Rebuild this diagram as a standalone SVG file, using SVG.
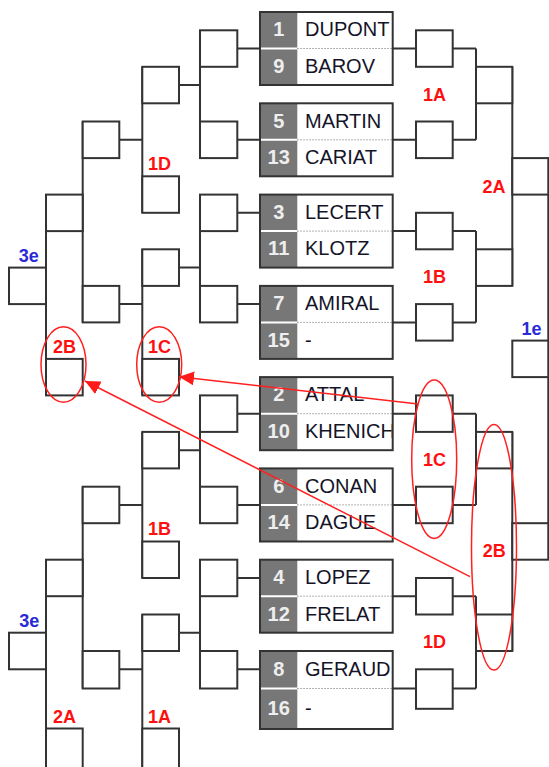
<svg xmlns="http://www.w3.org/2000/svg" width="549" height="767" viewBox="0 0 549 767">
<style>
.bg{fill:#fff}
.gc{fill:#777}
.wl{stroke:#fff;stroke-width:2}
.dot{stroke:#999;stroke-width:1;stroke-dasharray:1.5 1.5}
.bx{fill:none;stroke:#333;stroke-width:2}
.sq{fill:#fff;stroke:#333;stroke-width:2}
.ln{fill:none;stroke:#333;stroke-width:2}
.num{font-family:"Liberation Sans",Arial,sans-serif;font-weight:bold;font-size:20px;fill:#eee;text-anchor:middle}
.nm{font-family:"Liberation Sans",Arial,sans-serif;font-size:20px;fill:#141428}
.lbl{font-family:"Liberation Sans",Arial,sans-serif;font-weight:bold;font-size:18px;fill:#ff1010;text-anchor:middle}
.blu{fill:#2a2ad6}
.rd{fill:none;stroke:#ff2020;stroke-width:1.5}
</style>
<defs>
<marker id="ah" markerUnits="userSpaceOnUse" markerWidth="16" markerHeight="14" refX="15" refY="7" orient="auto">
<path d="M0,0 L15,7 L0,14 z" fill="#ff1a1a"/>
</marker>
<clipPath id="c4"><rect x="297" y="377" width="94.7" height="74"/></clipPath>
</defs>

<g id="connectors">
<path class="ln" d="
M237.3,48.5H260 M237.3,139.8H260 M237.3,212.8H260 M237.3,304.1H260 M237.3,413.7H260 M237.3,504.9H260 M237.3,578H260 M237.3,669.3H260
M200,30.3V158.1 M200,194.6V322.4 M200,395.4V523.2 M200,559.7V688.5
M179,85H200 M179,267.6H200 M179,450.2H200 M179,632.7H200
M142.3,66.8V212.8 M142.3,249.3V395.4 M142.3,431.9V578 M142.3,614.5V767
M119.3,139.8H142.3 M119.3,304.1H142.3 M119.3,504.9H142.3 M119.3,669.3H142.3
M82.7,121.5V322.4 M82.7,486.7V688.5
M46,194.6V395.4 M46,559.7V767
M392.7,48.5H416 M392.7,139.8H416 M392.7,231.1H416 M392.7,322.4H416 M392.7,413.7H416 M392.7,504.9H416 M392.7,596.2H416 M392.7,688.5H416
M452.7,48.5H476 M452.7,139.8H476 M452.7,231.1H476 M452.7,322.4H476 M452.7,413.7H476 M452.7,504.9H476 M452.7,596.2H476 M452.7,688.5H476
M476,48.5V139.8 M476,231.1V322.4 M476,413.7V504.9 M476,596.2V688.5
M512.3,66.8V285.9 M512.3,431.9V651
M548.3,158.1V559.7"/>
</g>

<g id="p1"><rect class="bg" x="260" y="12" width="132.7" height="73"/><rect class="gc" x="260" y="12" width="37.3" height="73"/><line class="wl" x1="260" y1="48.5" x2="297.3" y2="48.5"/><line class="dot" x1="297.3" y1="48.5" x2="392.7" y2="48.5"/><rect class="bx" x="260" y="12" width="132.7" height="73"/>
<text class="num" x="278.7" y="36.3">1</text><text class="num" x="278.7" y="72.8">9</text><text class="nm" x="305" y="36.3">DUPONT</text><text class="nm" x="305" y="72.8">BAROV</text></g>

<g id="p2"><rect class="bg" x="260" y="103.3" width="132.7" height="73"/><rect class="gc" x="260" y="103.3" width="37.3" height="73"/><line class="wl" x1="260" y1="139.8" x2="297.3" y2="139.8"/><line class="dot" x1="297.3" y1="139.8" x2="392.7" y2="139.8"/><rect class="bx" x="260" y="103.3" width="132.7" height="73"/>
<text class="num" x="278.7" y="127.6">5</text><text class="num" x="278.7" y="164.1">13</text><text class="nm" x="305" y="127.6">MARTIN</text><text class="nm" x="305" y="164.1">CARIAT</text></g>

<g id="p3"><rect class="bg" x="260" y="194.6" width="132.7" height="73"/><rect class="gc" x="260" y="194.6" width="37.3" height="73"/><line class="wl" x1="260" y1="231.1" x2="297.3" y2="231.1"/><line class="dot" x1="297.3" y1="231.1" x2="392.7" y2="231.1"/><rect class="bx" x="260" y="194.6" width="132.7" height="73"/>
<text class="num" x="278.7" y="218.9">3</text><text class="num" x="278.7" y="255.4">11</text><text class="nm" x="305" y="218.9">LECERT</text><text class="nm" x="305" y="255.4">KLOTZ</text></g>

<g id="p4"><rect class="bg" x="260" y="285.9" width="132.7" height="73"/><rect class="gc" x="260" y="285.9" width="37.3" height="73"/><line class="wl" x1="260" y1="322.4" x2="297.3" y2="322.4"/><line class="dot" x1="297.3" y1="322.4" x2="392.7" y2="322.4"/><rect class="bx" x="260" y="285.9" width="132.7" height="73"/>
<text class="num" x="278.7" y="310.2">7</text><text class="num" x="278.7" y="346.7">15</text><text class="nm" x="305" y="310.2">AMIRAL</text><text class="nm" x="305" y="346.7">-</text></g>

<g id="p5"><rect class="bg" x="260" y="377.1" width="132.7" height="73.1"/><rect class="gc" x="260" y="377.1" width="37.3" height="73.1"/><line class="wl" x1="260" y1="413.7" x2="297.3" y2="413.7"/><line class="dot" x1="297.3" y1="413.7" x2="392.7" y2="413.7"/>
<text class="num" x="278.7" y="401.4">2</text><text class="num" x="278.7" y="438">10</text><text class="nm" x="305" y="401.4">ATTAL</text><text class="nm" x="305" y="438" clip-path="url(#c4)">KHENICH</text><rect class="bx" x="260" y="377.1" width="132.7" height="73.1"/></g>

<g id="p6"><rect class="bg" x="260" y="468.4" width="132.7" height="73.1"/><rect class="gc" x="260" y="468.4" width="37.3" height="73.1"/><line class="wl" x1="260" y1="504.9" x2="297.3" y2="504.9"/><line class="dot" x1="297.3" y1="504.9" x2="392.7" y2="504.9"/><rect class="bx" x="260" y="468.4" width="132.7" height="73.1"/>
<text class="num" x="278.7" y="492.7">6</text><text class="num" x="278.7" y="529.2">14</text><text class="nm" x="305" y="492.7">CONAN</text><text class="nm" x="305" y="529.2">DAGUE</text></g>

<g id="p7"><rect class="bg" x="260" y="559.7" width="132.7" height="73"/><rect class="gc" x="260" y="559.7" width="37.3" height="73"/><line class="wl" x1="260" y1="596.2" x2="297.3" y2="596.2"/><line class="dot" x1="297.3" y1="596.2" x2="392.7" y2="596.2"/><rect class="bx" x="260" y="559.7" width="132.7" height="73"/>
<text class="num" x="278.7" y="584">4</text><text class="num" x="278.7" y="620.5">12</text><text class="nm" x="305" y="584">LOPEZ</text><text class="nm" x="305" y="620.5">FRELAT</text></g>

<g id="p8"><rect class="bg" x="260" y="651" width="132.7" height="78"/><rect class="gc" x="260" y="651" width="37.3" height="78"/><line class="wl" x1="260" y1="688.5" x2="297.3" y2="688.5"/><line class="dot" x1="297.3" y1="688.5" x2="392.7" y2="688.5"/><rect class="bx" x="260" y="651" width="132.7" height="78"/>
<text class="num" x="278.7" y="675.8">8</text><text class="num" x="278.7" y="714.8">16</text><text class="nm" x="305" y="675.8">GERAUD</text><text class="nm" x="305" y="714.8">-</text></g>

<!-- left round 1 slots -->
<g id="l1a"><rect class="sq" x="200" y="30.3" width="37.3" height="36.5"/></g>
<g id="l1b"><rect class="sq" x="200" y="121.5" width="37.3" height="36.6"/></g>
<g id="l1c"><rect class="sq" x="200" y="194.6" width="37.3" height="36.5"/></g>
<g id="l1d"><rect class="sq" x="200" y="285.9" width="37.3" height="36.5"/></g>
<g id="l1e"><rect class="sq" x="200" y="395.4" width="37.3" height="36.5"/></g>
<g id="l1f"><rect class="sq" x="200" y="486.7" width="37.3" height="36.5"/></g>
<g id="l1g"><rect class="sq" x="200" y="559.7" width="37.3" height="36.5"/></g>
<g id="l1h"><rect class="sq" x="200" y="651" width="37.3" height="37.5"/></g>

<!-- left round 2 slots -->
<g id="l2a"><rect class="sq" x="142.3" y="66.8" width="36.7" height="36.5"/></g>
<g id="l2-1D"><rect class="sq" x="142.3" y="176.3" width="36.7" height="36.5"/><text class="lbl" x="159.5" y="170">1D</text></g>
<g id="l2b"><rect class="sq" x="142.3" y="249.3" width="36.7" height="36.6"/></g>
<g id="l2-1C"><rect class="sq" x="142.3" y="358.9" width="36.7" height="36.5"/><text class="lbl" x="159.5" y="353.3">1C</text></g>
<g id="l2c"><rect class="sq" x="142.3" y="431.9" width="36.7" height="36.5"/></g>
<g id="l2-1B"><rect class="sq" x="142.3" y="541.5" width="36.7" height="36.5"/><text class="lbl" x="159.5" y="535.3">1B</text></g>
<g id="l2d"><rect class="sq" x="142.3" y="614.5" width="36.7" height="36.5"/></g>
<g id="l2-1A"><rect class="sq" x="142.3" y="728.5" width="36.7" height="50"/><text class="lbl" x="159.5" y="723">1A</text></g>

<!-- left round 3 slots -->
<g id="l3a"><rect class="sq" x="82.7" y="121.5" width="36.6" height="36.6"/></g>
<g id="l3b"><rect class="sq" x="82.7" y="285.9" width="36.6" height="36.5"/></g>
<g id="l3c"><rect class="sq" x="82.7" y="486.7" width="36.6" height="36.5"/></g>
<g id="l3d"><rect class="sq" x="82.7" y="651" width="36.6" height="37.5"/></g>

<!-- left round 4 slots -->
<g id="l4a"><rect class="sq" x="46" y="194.6" width="36.7" height="36.5"/></g>
<g id="l4-2B"><rect class="sq" x="46" y="358.9" width="36.7" height="36.5"/><text class="lbl" x="64.5" y="353.3">2B</text></g>
<g id="l4b"><rect class="sq" x="46" y="559.7" width="36.7" height="36.5"/></g>
<g id="l4-2A"><rect class="sq" x="46" y="728.5" width="36.7" height="50"/><text class="lbl" x="64.5" y="723">2A</text></g>

<!-- 3e slots -->
<g id="t3e-top"><rect class="sq" x="9" y="267.6" width="37" height="36.5"/><text class="lbl blu" x="28.8" y="261.5">3e</text></g>
<g id="t3e-bot"><rect class="sq" x="9" y="632.7" width="37" height="36.6"/><text class="lbl blu" x="29.2" y="626.5">3e</text></g>

<!-- right round 1 slots -->
<g id="r1a"><rect class="sq" x="416" y="30.3" width="36.7" height="36.5"/><text class="lbl" x="434.5" y="101">1A</text></g>
<g id="r1b"><rect class="sq" x="416" y="121.5" width="36.7" height="36.6"/></g>
<g id="r1c"><rect class="sq" x="416" y="212.8" width="36.7" height="36.5"/><text class="lbl" x="434.5" y="282.5">1B</text></g>
<g id="r1d"><rect class="sq" x="416" y="304.1" width="36.7" height="36.5"/></g>
<g id="r1e"><rect class="sq" x="416" y="395.4" width="36.7" height="36.5"/><text class="lbl" x="434.5" y="466.3">1C</text></g>
<g id="r1f"><rect class="sq" x="416" y="486.7" width="36.7" height="36.5"/></g>
<g id="r1g"><rect class="sq" x="416" y="578" width="36.7" height="36.5"/><text class="lbl" x="434.5" y="648.3">1D</text></g>
<g id="r1h"><rect class="sq" x="416" y="669.3" width="36.7" height="39.5"/></g>

<!-- right round 2 slots -->
<g id="r2a"><rect class="sq" x="476" y="66.8" width="36.3" height="36.5"/></g>
<g id="r2b"><rect class="sq" x="476" y="249.3" width="36.3" height="36.6"/></g>
<g id="r2c"><rect class="sq" x="476" y="431.9" width="36.3" height="36.5"/></g>
<g id="r2d"><rect class="sq" x="476" y="614.5" width="36.3" height="36.5"/></g>

<!-- right round 3 slots -->
<g id="r3-2A"><rect class="sq" x="512.3" y="158.1" width="36" height="36.5"/><text class="lbl" x="494" y="192.8">2A</text></g>
<g id="r3-1e"><rect class="sq" x="512.3" y="340.6" width="36" height="36.5"/><text class="lbl blu" x="531.5" y="334.8">1e</text></g>
<g id="r3-2B"><rect class="sq" x="512.3" y="523.2" width="36" height="36.5"/><text class="lbl" x="494.2" y="557.3">2B</text></g>

<g id="annotations">
<ellipse class="rd" cx="63.5" cy="364.5" rx="22.5" ry="37.8"/>
<ellipse class="rd" cx="159.2" cy="364.5" rx="22.5" ry="37.8"/>
<ellipse class="rd" cx="434.2" cy="459.2" rx="22.5" ry="79.2"/>
<ellipse class="rd" cx="494" cy="547.2" rx="22.5" ry="122.8"/>
<line class="rd" x1="418.3" y1="404" x2="179" y2="376.7" marker-end="url(#ah)"/>
<line class="rd" x1="470" y1="576.7" x2="85" y2="381" marker-end="url(#ah)"/>
</g>
</svg>
